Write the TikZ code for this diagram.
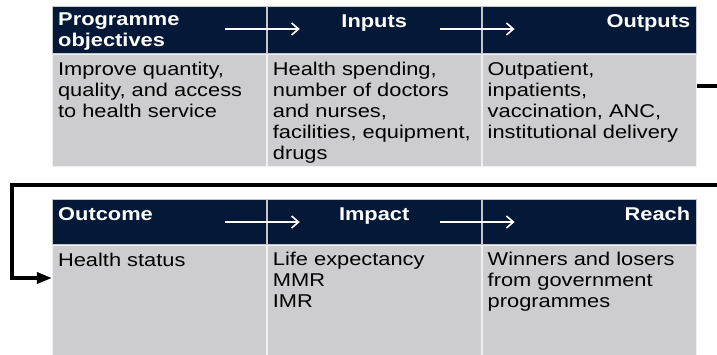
\documentclass[tikz,border=0pt]{standalone}
\usepackage{fontspec}
\setmainfont{Liberation Sans}[FakeStretch=1.18]
\usetikzlibrary{arrows.meta,positioning,calc}
\definecolor{navy}{HTML}{041838}
\definecolor{cellgrey}{HTML}{CDCDCF}

\begin{document}
\begin{tikzpicture}[x=1pt,y=-1pt,
    head/.style={fill=navy,draw=gray!45,line width=0.8pt,minimum width=214pt,minimum height=47pt,inner sep=0pt},
    body/.style={fill=cellgrey,draw=gray!12,line width=1pt,minimum width=214pt,minimum height=112pt,inner sep=0pt},
    headtext/.style={text=white,font=\fontsize{18.5}{20.5}\selectfont\bfseries,align=left,inner sep=0pt,
      execute at begin node={\rule{0pt}{14pt}}},
    bodytext/.style={font=\fontsize{18.5}{21}\selectfont,align=left,inner sep=0pt,anchor=north west,
      execute at begin node={\rule{0pt}{14pt}}},
    flow/.style={white,line width=1.6pt,-{Straight Barb[length=7pt,width=12pt]}},
    link/.style={line width=3.5pt,-{Triangle[length=15pt,width=11pt]}}]
    \useasboundingbox (0,0) rectangle (717,354);
    \clip (0,0) rectangle (717,354);

    \node[head,anchor=north west] (objhead) at (52,6) {};
    \node[head,right=0pt of objhead] (inhead) {};
    \node[head,right=0pt of inhead] (outhead) {};
    \node[body,below=0pt of objhead] (objbody) {};
    \node[body,below=0pt of inhead] (inbody) {};
    \node[body,below=0pt of outhead] (outbody) {};

    \node[head,anchor=north west,minimum height=45pt] (ochead) at (52,199) {};
    \node[head,minimum height=45pt,right=0pt of ochead] (imhead) {};
    \node[head,minimum height=45pt,right=0pt of imhead] (rchead) {};
    \node[body,below=0pt of ochead] (ocbody) {};
    \node[body,below=0pt of imhead] (imbody) {};
    \node[body,below=0pt of rchead] (rcbody) {};

    \node[headtext,anchor=north west] at ($(objhead.north west)+(6,7)$) {Programme\\objectives};
    \node[headtext,anchor=north] at ($(inhead.north)+(0,7)$) {Inputs};
    \node[headtext,anchor=north east] at ($(outhead.north east)+(-6,7)$) {Outputs};
    \node[headtext,anchor=north west] at ($(ochead.north west)+(6,7)$) {Outcome};
    \node[headtext,anchor=north] at ($(imhead.north)+(0,7)$) {Impact};
    \node[headtext,anchor=north east] at ($(rchead.north east)+(-6,7)$) {Reach};

    \node[bodytext] at ($(objbody.north west)+(6,8)$) {Improve quantity,\\quality, and access\\to health service};
    \node[bodytext] at ($(inbody.north west)+(6,8)$) {Health spending,\\number of doctors\\and nurses,\\facilities, equipment,\\drugs};
    \node[bodytext] at ($(outbody.north west)+(6,8)$) {Outpatient,\\inpatients,\\vaccination, ANC,\\institutional delivery};
    \node[bodytext] at ($(ocbody.north west)+(6,7)$) {Health status};
    \node[bodytext] at ($(imbody.north west)+(6,7)$) {Life expectancy\\MMR\\IMR};
    \node[bodytext] at ($(rcbody.north west)+(6,7)$) {Winners and losers\\from government\\programmes};

    \draw[flow] ($(objhead.north east)+(-42,23)$) -- ($(inhead.north west)+(33,23)$);
    \draw[flow] ($(inhead.north east)+(-42,23)$) -- ($(outhead.north west)+(33,23)$);
    \draw[flow] ($(ochead.north east)+(-42,23)$) -- ($(imhead.north west)+(33,23)$);
    \draw[flow] ($(imhead.north east)+(-42,23)$) -- ($(rchead.north west)+(33,23)$);

    \coordinate (turn) at (725,185);
    \draw[link] (outbody.east |- 0,86) -| (turn) -- (12,185) |- (ocbody.west |- 0,278);
\end{tikzpicture}
\end{document}
